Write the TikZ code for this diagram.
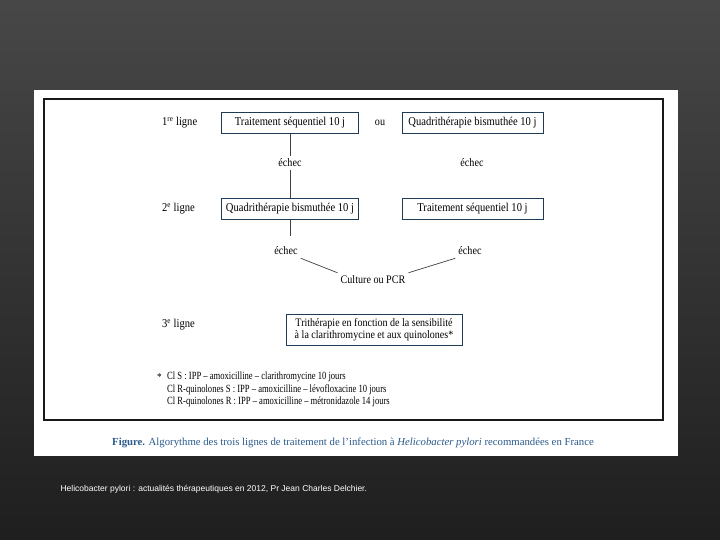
\documentclass[tikz,border=0pt]{standalone}
\usepackage{fontspec}
\setmainfont[FakeStretch=0.88]{Liberation Serif}
\newfontfamily\capfont[Ligatures=TeX]{Liberation Serif}
\newfontfamily\notefont[FakeStretch=0.78,Ligatures=TeX]{Liberation Serif}
\newfontfamily\footfont{Liberation Sans}
\usepackage{tikz}
\usetikzlibrary{positioning}
\definecolor{boxblue}{HTML}{1F3C56}
\definecolor{capblue}{HTML}{2B5A8C}

\begin{document}
\begin{tikzpicture}[x=1pt,y=-1pt]

\tikzset{
  linelabel/.style={font=\fontsize{12}{13}\selectfont, anchor=west, inner sep=0pt},
  treat/.style={draw=boxblue, line width=0.8pt, fill=white,
                font=\fontsize{12}{13}\selectfont, align=center,
                minimum width=137pt, minimum height=21pt, inner sep=2pt},
  fail/.style={font=\fontsize{11.5}{12}\selectfont, inner sep=3pt},
  link/.style={black!75, line width=0.7pt}
}

% Background and frame
\shade[top color=black!72, bottom color=black!88] (0,0) rectangle (720,540);
\fill[white] (34,90) rectangle (678,456);
\draw[black!90, line width=1.2pt] (44,99) rectangle (663,420);
\useasboundingbox (0,0) rectangle (720,540);

% Line labels
\node[linelabel] (l1) at (162,123) {1\textsuperscript{re} ligne};
\node[linelabel] (l2) at (162,209) {2\textsuperscript{e} ligne};
\node[linelabel] (l3) at (162,325) {3\textsuperscript{e} ligne};

% 1st line
\node[treat] (seq1) at (290,123) {Traitement séquentiel 10 j};
\node[treat, minimum width=141pt] (quad1) at (472.5,123) {Quadrithérapie bismuthée 10 j};
\node[fail] (ou) at (380,123) {ou};

% 2nd line
\node[fail] (e1) at (290,163) {échec};
\node[fail] (e2) at (472,163) {échec};
\node[treat] (quad2) at (290,209) {Quadrithérapie bismuthée 10 j};
\node[treat, minimum width=141pt] (seq2) at (472.5,209) {Traitement séquentiel 10 j};

% Culture
\node[fail] (e3) at (286,251) {échec};
\node[fail] (e4) at (470,251) {échec};
\node[fail] (pcr) at (373,280) {Culture ou PCR};

% 3rd line
\node[treat, minimum width=176pt, minimum height=31pt, inner sep=3pt,
      font=\fontsize{11.4}{12.5}\selectfont] (tri) at (374,329.5)
  {Trithérapie en fonction de la sensibilité\\à la clarithromycine et aux quinolones*};

% Lines
\draw[link] (seq1.south) -- (e1.north);
\draw[link] (e1.south) -- (quad2.north);
\draw[link] (quad2.south) -- ++(0,16) coordinate (c3);
\draw[link] (e3.south east) -- (pcr.north west);
\draw[link] (pcr.north east) -- (e4.south west);

% Footnote
\node[font=\fontsize{10.5}{12}\selectfont, anchor=west, inner sep=0pt] (star) at (157,377) {*};
\node[font=\notefont\fontsize{11}{12.2}\selectfont, anchor=north west, align=left, inner sep=0pt]
  (note) at (167,372)
  {Cl S : IPP – amoxicilline – clarithromycine 10 jours\\
   Cl R-quinolones S : IPP – amoxicilline – lévofloxacine 10 jours\\
   Cl R-quinolones R : IPP – amoxicilline – métronidazole 14 jours};

% Caption and source
\node[font=\capfont\fontsize{10.75}{12}\selectfont, text=capblue] (caption) at (353,443)
  {\textbf{Figure.} Algorythme des trois lignes de traitement de l’infection à \textit{Helicobacter pylori} recommandées en France};
\node[font=\footfont\fontsize{8.5}{10}\selectfont, text=white, anchor=west] (source) at (57,489)
  {Helicobacter pylori : actualités thérapeutiques en 2012, Pr Jean Charles Delchier.};

\end{tikzpicture}
\end{document}
